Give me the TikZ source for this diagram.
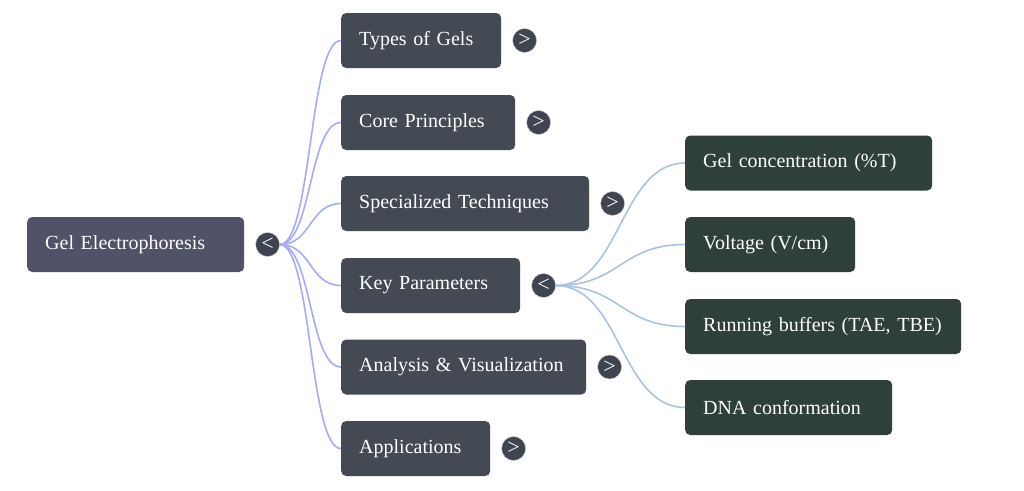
\documentclass[tikz,border=0pt]{standalone}
\usepackage{fontspec}
\setmainfont{Liberation Serif}
\usetikzlibrary{calc,positioning}
\definecolor{rootfill}{HTML}{505268}
\definecolor{topicfill}{HTML}{434A54}
\definecolor{leaffill}{HTML}{2F403B}
\definecolor{btnfill}{HTML}{3E4450}
\definecolor{rootedge}{HTML}{A3ABFA}
\definecolor{leafedge}{HTML}{A9C2E2}
\tikzset{
  box/.style={rounded corners=5pt, anchor=west, minimum height=55pt, inner xsep=18pt,
    text=white, font=\fontsize{20}{24}\selectfont, align=left},
  rootbox/.style={box, fill=rootfill},
  topic/.style={box, fill=topicfill},
  leaf/.style={box, fill=leaffill},
  btn/.style={circle, fill=btnfill, draw=white!75!btnfill, line width=0.4pt, minimum size=24pt,
    inner sep=0pt, text=white, font=\fontsize{22}{22}\selectfont},
  btnright/.style={btn, right=11pt of #1},
}
\def\branch[#1](#2)(#3)(#4){\draw[#1] (#2) .. controls ($(#2)+(#4,0)$) and ($(#3)+(-#4,0)$) .. (#3);}

\begin{document}
\begin{tikzpicture}[x=1pt,y=-1pt]
		\useasboundingbox (0,0) rectangle (1024,490);
		%%%%% ROOT %%%%%
		\node[rootbox, text width=181pt] (root) at (27,244.5) {Gel Electrophoresis};
		\node[btnright=root] (rootbtn) {<};
		
		%%%%% TOPICS %%%%%
		\node[topic, text width=124pt] (types) at (341,40.5) {Types of Gels};
		\node[topic, text width=138pt] (core) at (341,122.5) {Core Principles};
		\node[topic, text width=212pt] (spec) at (341,203.5) {Specialized Techniques};
		\node[topic, text width=143pt] (key) at (341,285.5) {Key Parameters};
		\node[topic, text width=209pt] (ana) at (341,367) {Analysis \& Visualization};
		\node[topic, text width=113pt] (apps) at (341,448.5) {Applications};
		
		\node[btnright=types] (typesbtn) {>};
		\node[btnright=core] (corebtn) {>};
		\node[btnright=spec] (specbtn) {>};
		\node[btnright=key] (keybtn) {<};
		\node[btnright=ana] (anabtn) {>};
		\node[btnright=apps] (appsbtn) {>};
		
		%%%%% KEY PARAMETERS %%%%%
		\node[leaf, text width=211pt] (conc) at (685,163) {Gel concentration (\%T)};
		\node[leaf, text width=134pt] (volt) at (685,244.5) {Voltage (V/cm)};
		\node[leaf, text width=240pt] (buff) at (685,326.5) {Running buffers (TAE, TBE)};
		\node[leaf, text width=171pt] (conf) at (685,407.5) {DNA conformation};
		
		%%%%% EDGES %%%%%
		\foreach \t in {types,core,spec,key,ana,apps}
			{\branch[rootedge, line width=1.6pt](rootbtn.east)(\t.west)(32)}
		\foreach \t in {conc,volt,buff,conf}
			{\branch[leafedge, line width=1.6pt](keybtn.east)(\t.west)(65)}
	\end{tikzpicture}
\end{document}
